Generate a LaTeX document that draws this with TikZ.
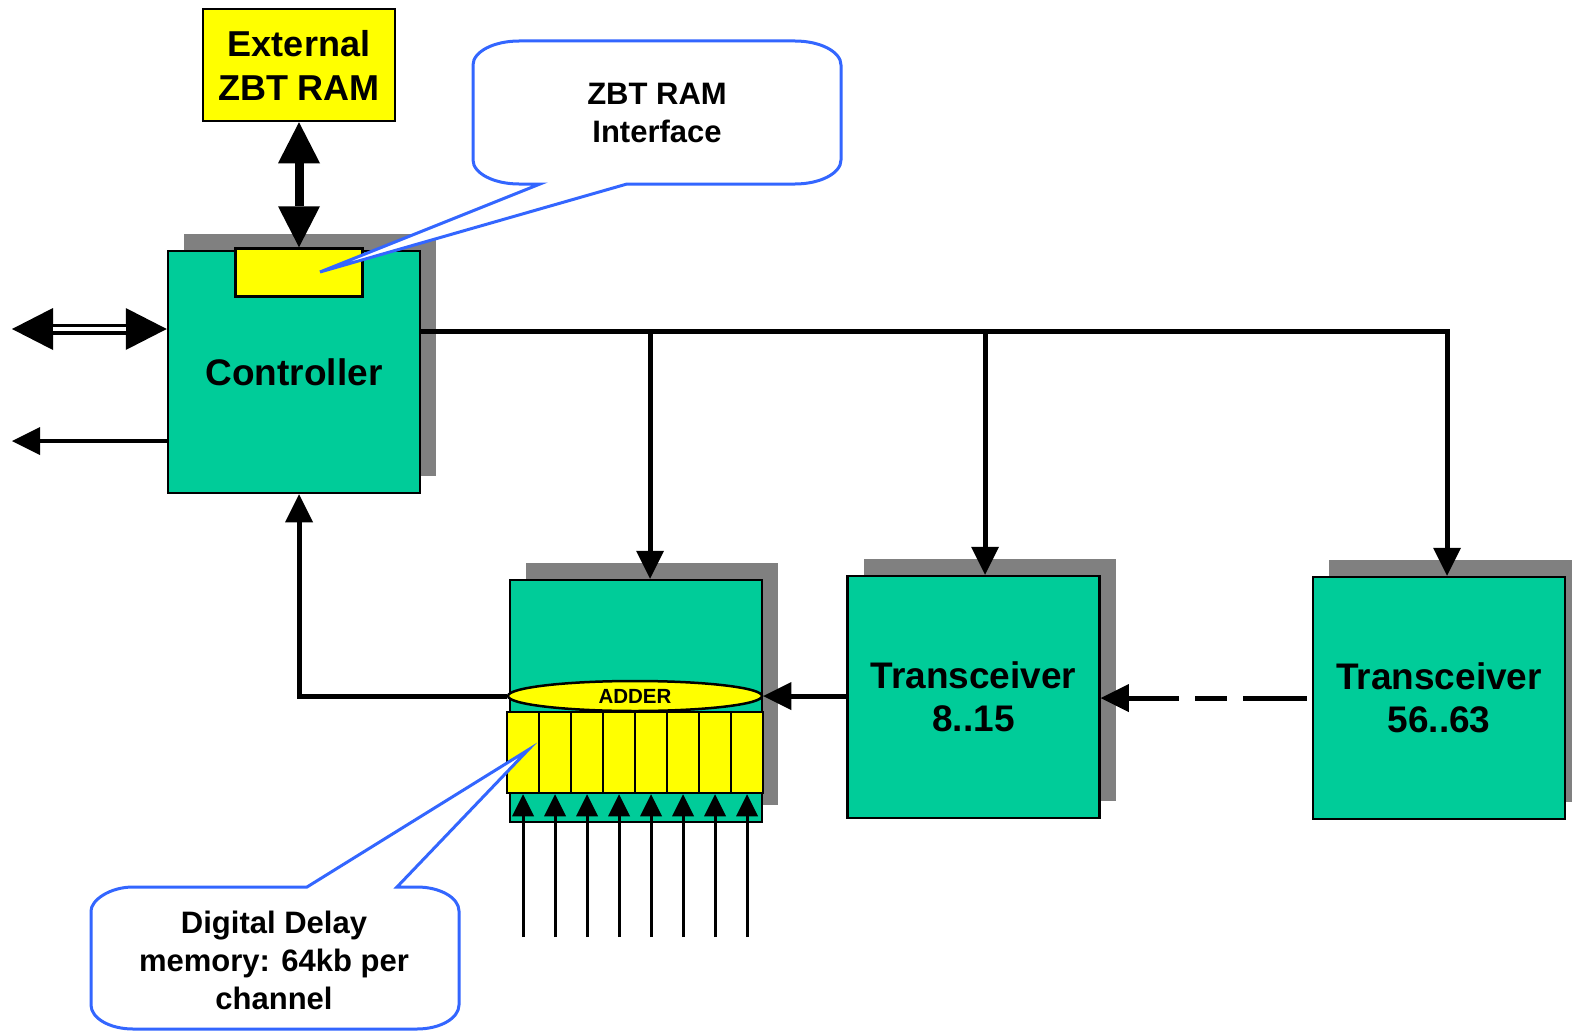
\documentclass[tikz,border=0pt]{standalone}
\usepackage{fontspec}
\setmainfont{Liberation Sans}
\usetikzlibrary{arrows.meta,shapes.geometric,shadows,calc}
\definecolor{boxgreen}{RGB}{0,204,153}
\definecolor{boxyellow}{RGB}{255,255,0}
\definecolor{shadowgray}{RGB}{128,128,128}
\definecolor{calloutblue}{RGB}{51,102,255}
\begin{document}
\begin{tikzpicture}[x=1pt,y=-1pt,
  boxshadow/.style={drop shadow={shadow xshift=16pt,shadow yshift=17pt,fill=shadowgray,opacity=1}},
  block/.style={draw=black,line width=2.5pt,fill=boxgreen,minimum width=252pt,minimum height=242pt,
    inner sep=0pt,align=center,font=\fontsize{37}{43.5}\selectfont\bfseries,boxshadow},
  ybox/.style={draw=black,line width=2.5pt,fill=boxyellow,inner sep=0pt},
  cellbox/.style={ybox,minimum width=32pt,minimum height=81pt},
  bigtip/.tip={Triangle[length=41pt,width=42pt,line width=0pt]},
  medtip/.tip={Triangle[length=28pt,width=28pt,line width=0pt]},
  smalltip/.tip={Triangle[length=22pt,width=22pt,line width=0pt]},
  medarrow/.style={-medtip,line width=5pt,line join=miter},
  smallarrow/.style={-smalltip,line width=3pt},
  callout/.style={draw=calloutblue,line width=3pt,fill=white,line join=miter},
  calltext/.style={align=center,inner sep=0pt,font=\fontsize{31}{38}\selectfont\bfseries},
]
\useasboundingbox (0,0) rectangle (1572,1033);

% external memory
\node[ybox,minimum width=192pt,minimum height=112pt,align=center,
      font=\fontsize{36}{44}\selectfont\bfseries] (ext) at (299,65) {External\\ZBT RAM};

% controller with its memory interface port
\node[block] (ctrl) at (294,372) {Controller};
\node[ybox,minimum width=127pt,minimum height=48pt] (zif) at (299,272.5) {};

% summing board with delay memory cells and adder
\node[block] (adb) at (636,701) {};
\foreach \i in {1,...,8}
  \node[cellbox] (cell\i) at (491+32*\i,752.5) {};
\node[ellipse,draw=black,line width=2.5pt,fill=boxyellow,minimum width=254pt,minimum height=30pt,
      inner sep=0pt,font=\fontsize{20.5}{24}\selectfont\bfseries] (adder) at (635,696) {ADDER};

% transceiver boards
\node[block] (tx1) at (973.5,697) {Transceiver\\8..15};
\node[block] (tx2) at (1439,698) {Transceiver\\56..63};

% memory link
\draw[bigtip-bigtip,line width=9pt] (ext.south) -- (zif.north);

% external ports of the controller
\coordinate (hostio) at (12,329);
\coordinate (hostout) at (12,441);
\draw[bigtip-bigtip,line width=11pt] (hostio) -- (ctrl.west |- hostio);
\draw[white,line width=4pt] ($(hostio)+(41,0)$) -- ($(ctrl.west |- hostio)+(-41,0)$);
\draw[-medtip,line width=4pt] (ctrl.west |- hostout) -- (hostout);

% control bus
\coordinate (bus) at (0,331);
\coordinate (j1) at (650,331);
\coordinate (j2) at (985,331);
\coordinate (j3) at (1447,331);
\draw[medarrow] (ctrl.east |- bus) -- (j3) -- (j3 |- tx2.north);
\draw[medarrow] (j1) -- (j1 |- adb.north);
\draw[medarrow] (j2) -- (j2 |- tx1.north);

% data chain
\draw[medarrow,shorten <=5pt,dash pattern=on 64pt off 16pt on 32pt off 16pt on 400pt]
  (tx2.west) -- (tx1.east |- tx2.west);
\draw[medarrow] (tx1.west |- adder.east) -- (adder.east);
\draw[medarrow] (adder.west) -- (adder.west -| zif.south) -- (zif.south |- ctrl.south);

% channel inputs
\foreach \i in {1,...,8} {
  \coordinate (in\i) at (491+32*\i,937);
  \draw[smallarrow] (in\i) -- (cell\i.south);
}

% callouts
\coordinate (tipA) at (320,272);
\draw[callout] (540,184) -- (tipA) -- (627,184) -- (795,184)
  .. controls (820.4,184) and (841,173.2) .. (841,160) -- (841,65)
  .. controls (841,51.8) and (820.4,41) .. (795,41) -- (519,41)
  .. controls (493.6,41) and (473,51.8) .. (473,65) -- (473,160)
  .. controls (473,173.2) and (493.6,184) .. (519,184) -- cycle;
\node[calltext] (zbtnote) at (657,113) {ZBT RAM\\Interface};

\coordinate (tipB) at (528,750);
\draw[callout] (397,887) -- (tipB) -- (307,887) -- (133,887)
  .. controls (109.8,887) and (91,900.2) .. (91,911) -- (91,1005)
  .. controls (91,1018.2) and (109.8,1029) .. (133,1029) -- (417,1029)
  .. controls (440.2,1029) and (459,1018.2) .. (459,1005) -- (459,911)
  .. controls (459,897.8) and (440.2,887) .. (417,887) -- cycle;
\node[calltext] (ddnote) at (274,960) {Digital Delay\\memory: 64kb per\\channel};
\end{tikzpicture}
\end{document}
